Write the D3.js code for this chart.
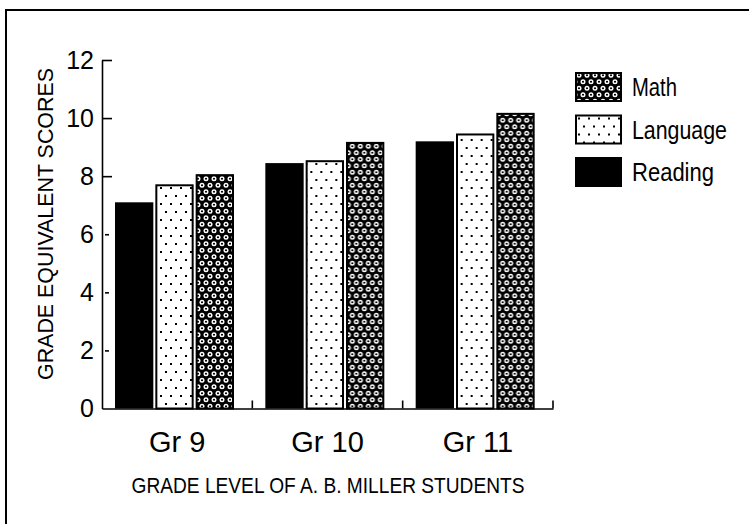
<!DOCTYPE html>
<html>
<head>
<meta charset="utf-8">
<script src="https://cdn.jsdelivr.net/npm/d3@7"></script>
<style>
  html, body { margin: 0; padding: 0; background: #fff; }
  svg { display: block; }
  text { font-family: "Liberation Sans", Arial, sans-serif; fill: #000; }
</style>
</head>
<body>
<svg id="chart" width="749" height="524"></svg>
<script>
// ---- data ----
const categories = ["Gr 9", "Gr 10", "Gr 11"];
const seriesNames = ["Reading", "Language", "Math"];
const reading  = [7.1, 8.45, 9.2];
const language = [7.72, 8.55, 9.47];
const math     = [8.07, 9.18, 10.18];
const yTicks = [0, 2, 4, 6, 8, 10, 12];
const legendOrder = ["Math", "Language", "Reading"];
const yTitle = "GRADE EQUIVALENT SCORES";
const xTitle = "GRADE LEVEL OF A. B. MILLER STUDENTS";

const seriesValues = { Reading: reading, Language: language, Math: math };

const svg = d3.select("#chart");

// ---- patterns ----
const defs = svg.append("defs");
const dots = defs.append("pattern").attr("id", "dots")
  .attr("patternUnits", "userSpaceOnUse").attr("width", 10).attr("height", 16);
dots.append("rect").attr("width", 10).attr("height", 16).attr("fill", "#fff");
dots.append("rect").attr("x", 3).attr("y", 3).attr("width", 2).attr("height", 2).attr("fill", "#000");
dots.append("rect").attr("x", 8).attr("y", 11).attr("width", 2).attr("height", 2).attr("fill", "#000");

const mp = defs.append("pattern").attr("id", "mathpat")
  .attr("patternUnits", "userSpaceOnUse").attr("width", 8).attr("height", 13);
mp.append("rect").attr("width", 8).attr("height", 13).attr("fill", "#000");
[[4, 3.25], [0, 9.75], [8, 9.75]].forEach(([cx, cy]) => {
  mp.append("circle").attr("cx", cx).attr("cy", cy).attr("r", 2.5).attr("fill", "#fff");
  mp.append("circle").attr("cx", cx).attr("cy", cy).attr("r", 1.1).attr("fill", "#000");
});

const fills = { Reading: "#000", Language: "url(#dots)", Math: "url(#mathpat)" };

// ---- border ----
svg.append("path").attr("d", "M6,524V10H749")
  .attr("fill", "none").attr("stroke", "#000").attr("stroke-width", 2);

// ---- scales ----
const y = d3.scaleLinear().domain([0, 12]).range([408.5, 60]);
const x0 = d3.scaleBand().domain(categories).range([102, 553]);
const x1 = d3.scaleBand().domain(seriesNames).range([13, 134]);

// ---- bars ----
const groups = svg.append("g").selectAll("g").data(categories).join("g")
  .attr("transform", c => `translate(${x0(c)},0)`);

groups.selectAll("rect")
  .data((c, i) => seriesNames.map(s => ({ s, v: seriesValues[s][i] })))
  .join("rect")
  .attr("x", d => x1(d.s) + (d.s === "Reading" ? 0 : 1))
  .attr("y", d => y(d.v) + (d.s === "Reading" ? 0 : 1))
  .attr("width", d => x1.bandwidth() - (d.s === "Reading" ? 2 : 4))
  .attr("height", d => y(0) - y(d.v) - (d.s === "Reading" ? 0 : 1))
  .attr("fill", d => fills[d.s])
  .attr("stroke", d => d.s === "Reading" ? "none" : "#000")
  .attr("stroke-width", 2);

// ---- y axis ----
const yAxis = svg.append("g").attr("transform", "translate(102,0)")
  .call(d3.axisLeft(y).tickValues(yTicks).tickSizeInner(-10).tickSizeOuter(0).tickPadding(8));
yAxis.select(".domain").attr("stroke-width", 1.6);
yAxis.selectAll(".tick line").attr("stroke-width", 1.6)
  .filter(d => d < 8 && d > 0).attr("x1", 3).attr("x2", 7);
yAxis.selectAll(".tick").filter(d => d === 0).select("line").remove();
yAxis.selectAll(".tick text").style("font-size", "25px");

// ---- x axis ----
const xAxis = svg.append("g").attr("transform", `translate(0,${y(0)})`)
  .call(d3.axisBottom(x0).tickSize(0).tickPadding(23));
xAxis.select(".domain").attr("stroke-width", 1.6);
xAxis.selectAll(".tick text").style("font-size", "29px");
svg.append("g").selectAll("line").data(categories).join("line")
  .attr("x1", c => x0(c) + x0.bandwidth()).attr("x2", c => x0(c) + x0.bandwidth())
  .attr("y1", y(0)).attr("y2", y(0) - 8)
  .attr("stroke", "#000").attr("stroke-width", 1.6);

// ---- titles ----
svg.append("text")
  .attr("transform", "translate(53,224) rotate(-90)")
  .attr("text-anchor", "middle")
  .attr("textLength", 312).attr("lengthAdjust", "spacingAndGlyphs")
  .style("font-size", "22px").text(yTitle);

svg.append("text")
  .attr("x", 328).attr("y", 493)
  .attr("text-anchor", "middle")
  .attr("textLength", 393).attr("lengthAdjust", "spacingAndGlyphs")
  .style("font-size", "22px").text(xTitle);

// ---- legend ----
const legendW = { Math: 45, Language: 95, Reading: 82 };
const lg = svg.append("g").selectAll("g").data(legendOrder).join("g")
  .attr("transform", (d, i) => `translate(575,${72 + i * 42.5})`);
lg.append("rect")
  .attr("x", d => d === "Reading" ? 0 : 1)
  .attr("y", d => d === "Reading" ? 0 : 1)
  .attr("width", d => d === "Reading" ? 47 : 45)
  .attr("height", d => d === "Reading" ? 30 : 28)
  .attr("fill", d => fills[d])
  .attr("stroke", d => d === "Reading" ? "none" : "#000")
  .attr("stroke-width", 2);
lg.append("text")
  .attr("x", 57).attr("y", 24)
  .attr("textLength", d => legendW[d]).attr("lengthAdjust", "spacingAndGlyphs")
  .style("font-size", "25px").text(d => d);
</script>
</body>
</html>
